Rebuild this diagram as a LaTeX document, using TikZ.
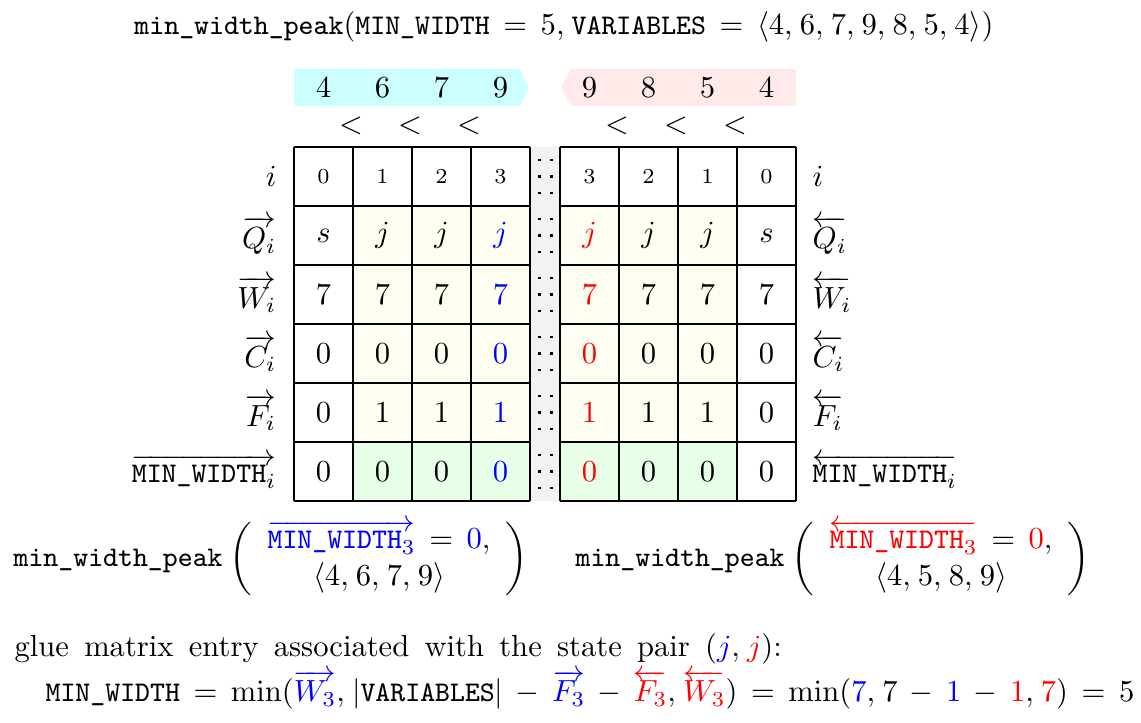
\documentclass[tikz,border=0pt]{standalone}
\usepackage{amsmath}
\definecolor{cellyel}{RGB}{254,255,240}
\definecolor{cellgrn}{RGB}{230,255,230}
\definecolor{bancyan}{RGB}{204,255,255}
\definecolor{banpink}{RGB}{255,233,233}
\definecolor{sepgray}{RGB}{242,242,242}
\newcommand{\tts}[1]{\text{\fontsize{9.3pt}{11pt}\selectfont\ttfamily #1}}
\thickmuskip=8mu plus 3mu
\medmuskip=6.3mu plus 2mu minus 2mu
\thinmuskip=4.2mu
\begin{document}
\begin{tikzpicture}[x=0.327pt,y=-0.327pt,
  cell/.style={inner sep=0pt},
  hdr/.style={inner sep=0pt,font=\scriptsize},
  lablft/.style={inner sep=0pt,anchor=east},
  labrgt/.style={inner sep=0pt,anchor=west},
  gridline/.style={draw=black,line width=0.4pt}]
\useasboundingbox (0,0) rectangle (1141,723);

% title
\node[inner sep=0pt,anchor=base] (title) at (564,35)
  {$\tts{min\_width\_peak}(\tts{MIN\_WIDTH}=5,\tts{VARIABLES}=\langle 4,6,7,9,8,5,4\rangle)$};

% banners
\fill[bancyan,rounded corners=0.6pt] (294,69) -- (520,69) -- (529,87.5) -- (520,106) -- (294,106) -- cycle;
\fill[banpink,rounded corners=0.6pt] (796,69) -- (571,69) -- (561,87.5) -- (571,106) -- (796,106) -- cycle;
\foreach \v [count=\c from 0] in {4,6,7,9}
  \node[cell] (bl\c) at ({323.5+59*\c},87.5) {$\v$};
\foreach \v [count=\c from 0] in {9,8,5,4}
  \node[cell] (br\c) at ({589.5+59*\c},87.5) {$\v$};
\foreach \x [count=\c] in {351,410,469}
  \node[cell] (ltl\c) at (\x,125.5) {$<$};
\foreach \x [count=\c] in {617,676,735}
  \node[cell] (ltr\c) at (\x,125.5) {$<$};

% fills
\fill[cellyel] (353,206) rectangle (530,442);
\fill[cellgrn] (353,442) rectangle (530,501);
\fill[cellyel] (560,206) rectangle (737,442);
\fill[cellgrn] (560,442) rectangle (737,501);
\fill[sepgray] (530,147) rectangle (560,501);

% grid
\foreach \x in {294,353,412,471,530,560,619,678,737,796}
  \draw[gridline] (\x,147) -- (\x,501);
\foreach \y in {147,206,265,324,383,442,501} {
  \draw[gridline] (294,\y) -- (530,\y);
  \draw[gridline] (560,\y) -- (796,\y);
}

% separator dots
\foreach \y in {176.5,235.5,294.5,353.5,412.5,471.5}
  \foreach \dy in {-16.5,0,16.5}
    \foreach \x in {539.3,551.3}
      \fill (\x-1.35,{\y+\dy-1.35}) rectangle ++(2.7,2.7);

% left cells
\foreach \v [count=\c from 0] in {0,1,2,3}
  \node[hdr] (L0\c) at ({323.5+59*\c},176.5) {$\v$};
\foreach \v [count=\c from 0] in {s,j,j,\textcolor{blue}{j}}
  \node[cell] (L1\c) at ({323.5+59*\c},235.5) {$\v$};
\foreach \v [count=\c from 0] in {7,7,7,\textcolor{blue}{7}}
  \node[cell] (L2\c) at ({323.5+59*\c},294.5) {$\v$};
\foreach \v [count=\c from 0] in {0,0,0,\textcolor{blue}{0}}
  \node[cell] (L3\c) at ({323.5+59*\c},353.5) {$\v$};
\foreach \v [count=\c from 0] in {0,1,1,\textcolor{blue}{1}}
  \node[cell] (L4\c) at ({323.5+59*\c},412.5) {$\v$};
\foreach \v [count=\c from 0] in {0,0,0,\textcolor{blue}{0}}
  \node[cell] (L5\c) at ({323.5+59*\c},471.5) {$\v$};

% right cells
\foreach \v [count=\c from 0] in {3,2,1,0}
  \node[hdr] (R0\c) at ({589.5+59*\c},176.5) {$\v$};
\foreach \v [count=\c from 0] in {\textcolor{red}{j},j,j,s}
  \node[cell] (R1\c) at ({589.5+59*\c},235.5) {$\v$};
\foreach \v [count=\c from 0] in {\textcolor{red}{7},7,7,7}
  \node[cell] (R2\c) at ({589.5+59*\c},294.5) {$\v$};
\foreach \v [count=\c from 0] in {\textcolor{red}{0},0,0,0}
  \node[cell] (R3\c) at ({589.5+59*\c},353.5) {$\v$};
\foreach \v [count=\c from 0] in {\textcolor{red}{1},1,1,0}
  \node[cell] (R4\c) at ({589.5+59*\c},412.5) {$\v$};
\foreach \v [count=\c from 0] in {\textcolor{red}{0},0,0,0}
  \node[cell] (R5\c) at ({589.5+59*\c},471.5) {$\v$};

% row labels
\node[lablft] (li) at (277,176.5) {$i$};
\node[lablft] (lQ) at (277,235.5) {$\overrightarrow{Q_i}$};
\node[lablft] (lW) at (277,294.5) {$\overrightarrow{W_i}$};
\node[lablft] (lC) at (277,353.5) {$\overrightarrow{C_i}$};
\node[lablft] (lF) at (277,412.5) {$\overrightarrow{F_i}$};
\node[lablft] (lM) at (277,471.5) {$\overrightarrow{\tts{MIN\_WIDTH}_i}$};
\node[labrgt] (ri) at (812,176.5) {$i$};
\node[labrgt] (rQ) at (812,235.5) {$\overleftarrow{Q_i}$};
\node[labrgt] (rW) at (812,294.5) {$\overleftarrow{W_i}$};
\node[labrgt] (rC) at (812,353.5) {$\overleftarrow{C_i}$};
\node[labrgt] (rF) at (812,412.5) {$\overleftarrow{F_i}$};
\node[labrgt] (rM) at (812,471.5) {$\overleftarrow{\tts{MIN\_WIDTH}_i}$};

% peak expressions
\node[inner sep=0pt,anchor=west] (peakL) at (13,558.5)
  {$\tts{min\_width\_peak}\left(\begin{array}{c}\textcolor{blue}{\overrightarrow{\tts{MIN\_WIDTH}_3}}=\textcolor{blue}{0},\\ \langle 4,6,7,9\rangle\end{array}\right)$};
\node[inner sep=0pt,anchor=west] (peakR) at (575,558.5)
  {$\tts{min\_width\_peak}\left(\begin{array}{c}\textcolor{red}{\overleftarrow{\tts{MIN\_WIDTH}_3}}=\textcolor{red}{0},\\ \langle 4,5,8,9\rangle\end{array}\right)$};

% glue text
\node[inner sep=0pt,anchor=base west] (glue) at (14,657)
  {\spaceskip=5pt plus 1pt\relax glue matrix entry associated with the state pair $(\textcolor{blue}{j},\textcolor{red}{j})$:};
\node[inner sep=0pt,anchor=base west] (formula) at (45,702)
  {\medmuskip=7.3mu\relax$\tts{MIN\_WIDTH}=\min(\textcolor{blue}{\overrightarrow{W_3}},|\tts{VARIABLES}|-\textcolor{blue}{\overrightarrow{F_3}}-\textcolor{red}{\overleftarrow{F_3}},\textcolor{red}{\overleftarrow{W_3}})=\min(\textcolor{blue}{7},7-\textcolor{blue}{1}-\textcolor{red}{1},\textcolor{red}{7})=5$};
\end{tikzpicture}
\end{document}
